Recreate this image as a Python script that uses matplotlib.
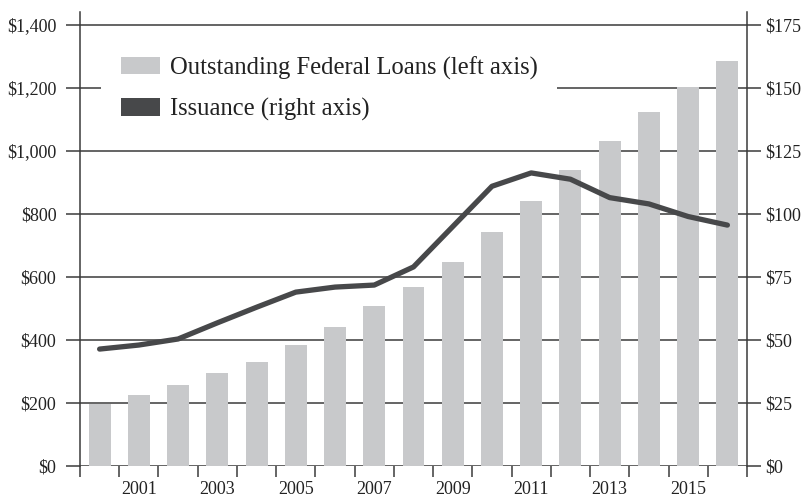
import matplotlib
matplotlib.use("Agg")
import matplotlib.pyplot as plt
import numpy as np
from matplotlib.patches import Patch

years = list(range(2000, 2017))
outstanding = [198, 226, 258, 295, 330, 384, 441, 508, 568, 648, 743, 841, 940, 1032, 1124, 1203, 1286]
issuance = [46.4, 48.0, 50.4, 56.8, 63.0, 69.0, 71.0, 71.8, 79.0, 95.0, 111.0, 116.3, 113.8, 106.5, 104.0, 99.0, 95.6]

left_ticks = [0, 200, 400, 600, 800, 1000, 1200, 1400]
right_ticks = [0, 25, 50, 75, 100, 125, 150, 175]
year_labels = [y for y in years if y % 2 == 1]

BAR = "#c8c9cb"
LINE = "#47484a"
INK = "#3a3a3a"

plt.rcParams["font.family"] = ["Liberation Serif", "DejaVu Serif"]

W, H = 802, 499
fig = plt.figure(figsize=(W / 100, H / 100), dpi=100)
x0, x1, yb, yt = 80, 747, 466, 12
ax = fig.add_axes([x0 / W, (H - yb) / H, (x1 - x0) / W, (yb - yt) / H])
top_left = 1400 * (yb - yt) / (yb - 25)
ax.set_ylim(0, top_left)
ax.set_xlim(0, len(years))

xc = np.arange(len(years)) + 0.5
ax.bar(xc, outstanding, width=0.56, color=BAR, zorder=2)

for v in left_ticks:
    ax.axhline(v, color=INK, lw=1.1, zorder=1)
ax.set_yticks(left_ticks)
ax.set_yticklabels([f"${v:,}" for v in left_ticks], fontsize=13, color="#222")
ax.tick_params(axis="y", length=10, width=1.1, color=INK, pad=7)

ax.set_xticks(xc[1::2])
ax.set_xticklabels([str(y) for y in year_labels], fontsize=13, color="#222")
ax.set_xticks(np.arange(len(years) + 1), minor=True)
ax.tick_params(axis="x", which="major", length=0, pad=11)
ax.tick_params(axis="x", which="minor", length=8, width=1.1, color=INK)

for s in ["top", "right", "bottom"]:
    ax.spines[s].set_visible(False)
ax.spines["left"].set_color(INK)
ax.spines["left"].set_linewidth(1.1)

ax2 = ax.twinx()
ax2.set_xlim(0, len(years))
ax2.set_ylim(0, 175 * top_left / 1400)
ax2.plot(xc, issuance, color=LINE, lw=3.8, solid_capstyle="round", solid_joinstyle="round", zorder=3)
ax2.set_yticks(right_ticks)
ax2.set_yticklabels([f"${v}" for v in right_ticks], fontsize=13, color="#222")
ax2.tick_params(axis="y", length=10, width=1.1, color=INK, pad=3)
for s in ["top", "left", "bottom"]:
    ax2.spines[s].set_visible(False)
ax2.spines["right"].set_color(INK)
ax2.spines["right"].set_linewidth(1.1)

handles = [Patch(facecolor=BAR, edgecolor="none"), Patch(facecolor=LINE, edgecolor="none")]
leg = ax2.legend(handles, ["Outstanding Federal Loans (left axis)", "Issuance (right axis)"],
                 loc="upper left", bbox_to_anchor=(0.0315, 0.946), fontsize=17.7,
                 frameon=True, fancybox=False, framealpha=1, edgecolor="none",
                 handlelength=1.6, handleheight=0.73, handletextpad=0.4,
                 labelspacing=0.75, borderpad=0.8, borderaxespad=0)
leg.get_frame().set_facecolor("white")
for t in leg.get_texts():
    t.set_color("#222")

fig.savefig("out.png", dpi=100)
